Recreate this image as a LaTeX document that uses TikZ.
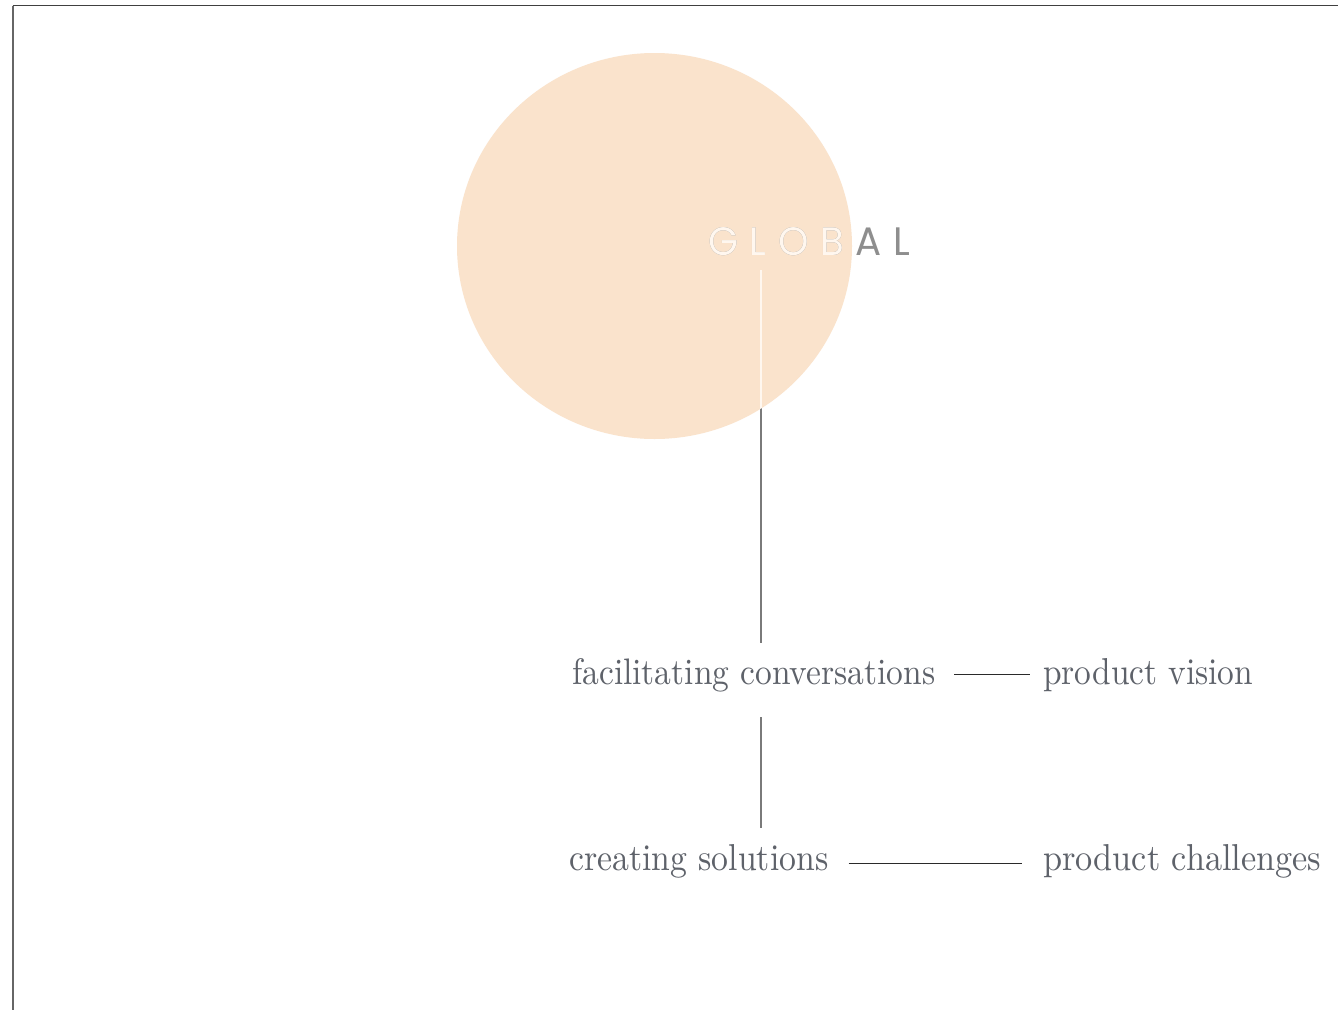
\documentclass[tikz,border=0pt]{standalone}
\usepackage{fontspec}
\usepackage{graphicx}
\usetikzlibrary{calc,shapes.geometric}
\newfontfamily\globalfont[LetterSpace=30]{Poppins}
\definecolor{peach}{HTML}{FAE3CC}
\definecolor{txtgray}{HTML}{5E626A}
\definecolor{glgray}{HTML}{8E8E8E}
\definecolor{glwhite}{HTML}{FFF7EF}
\definecolor{vgray}{HTML}{7A7A7A}
\definecolor{hdark}{HTML}{2A2A2A}
\tikzset{
  lbl/.style={inner sep=0pt, anchor=base west, text=txtgray},
  vline/.style={draw=vgray, line width=1.3pt},
  hline/.style={draw=hdark, line width=1pt},
  gl/.style={inner sep=0pt, anchor=base west},
}
\begin{document}
\begin{tikzpicture}[x=1pt,y=-1pt]
\useasboundingbox[fill=white] (0,0) rectangle (1338,1010);
% frame
\draw[draw=black!75, line width=1.5pt] (12.5,5.5) -- (1338,5.5);
\draw[draw=black!60, line width=2pt] (12.5,5.5) -- (12.5,1010);
% circle
\node[ellipse, fill=peach, minimum width=395pt, minimum height=386pt, inner sep=0pt] (circ) at (654.5,246) {};
% GLOBAL
\node[gl, text=glgray] (glob) at (708,255) {\resizebox{202pt}{28pt}{\globalfont GLOBAL}};
\coordinate (gtop) at (761,270);
% labels
\node[lbl] (fc) at (572,684) {\resizebox{363pt}{26pt}{facilitating conversations}};
\node[lbl] (pv) at (1043,684) {\resizebox{210pt}{26pt}{product vision}};
\node[lbl] (cs) at (569,870) {\resizebox{259pt}{26pt}{creating solutions}};
\node[lbl] (pc) at (1043,870) {\resizebox{278pt}{26pt}{product challenges}};
% connectors
\draw[vline, shorten >=15pt] (gtop) -- (gtop |- fc.north);
\coordinate (v2a) at (761,717);
\coordinate (v2b) at (761,828);
\draw[vline] (v2a) -- (v2b);
\draw[hline] ($(fc.base east)+(19,-10)$) -- ($(pv.base west)+(-13,-10)$);
\draw[hline] ($(cs.base east)+(20,-7)$) -- ($(pc.base west)+(-21,-7)$);
% parts inside the circle appear light
\begin{scope}
\clip (654.5,246) ellipse[x radius=197.5, y radius=193];
\node[gl, text=glwhite] at (708,255) {\resizebox{202pt}{28pt}{\globalfont GLOBAL}};
\draw[draw=glwhite, line width=1.3pt] (gtop) -- (761,450);
\end{scope}
\end{tikzpicture}
\end{document}
